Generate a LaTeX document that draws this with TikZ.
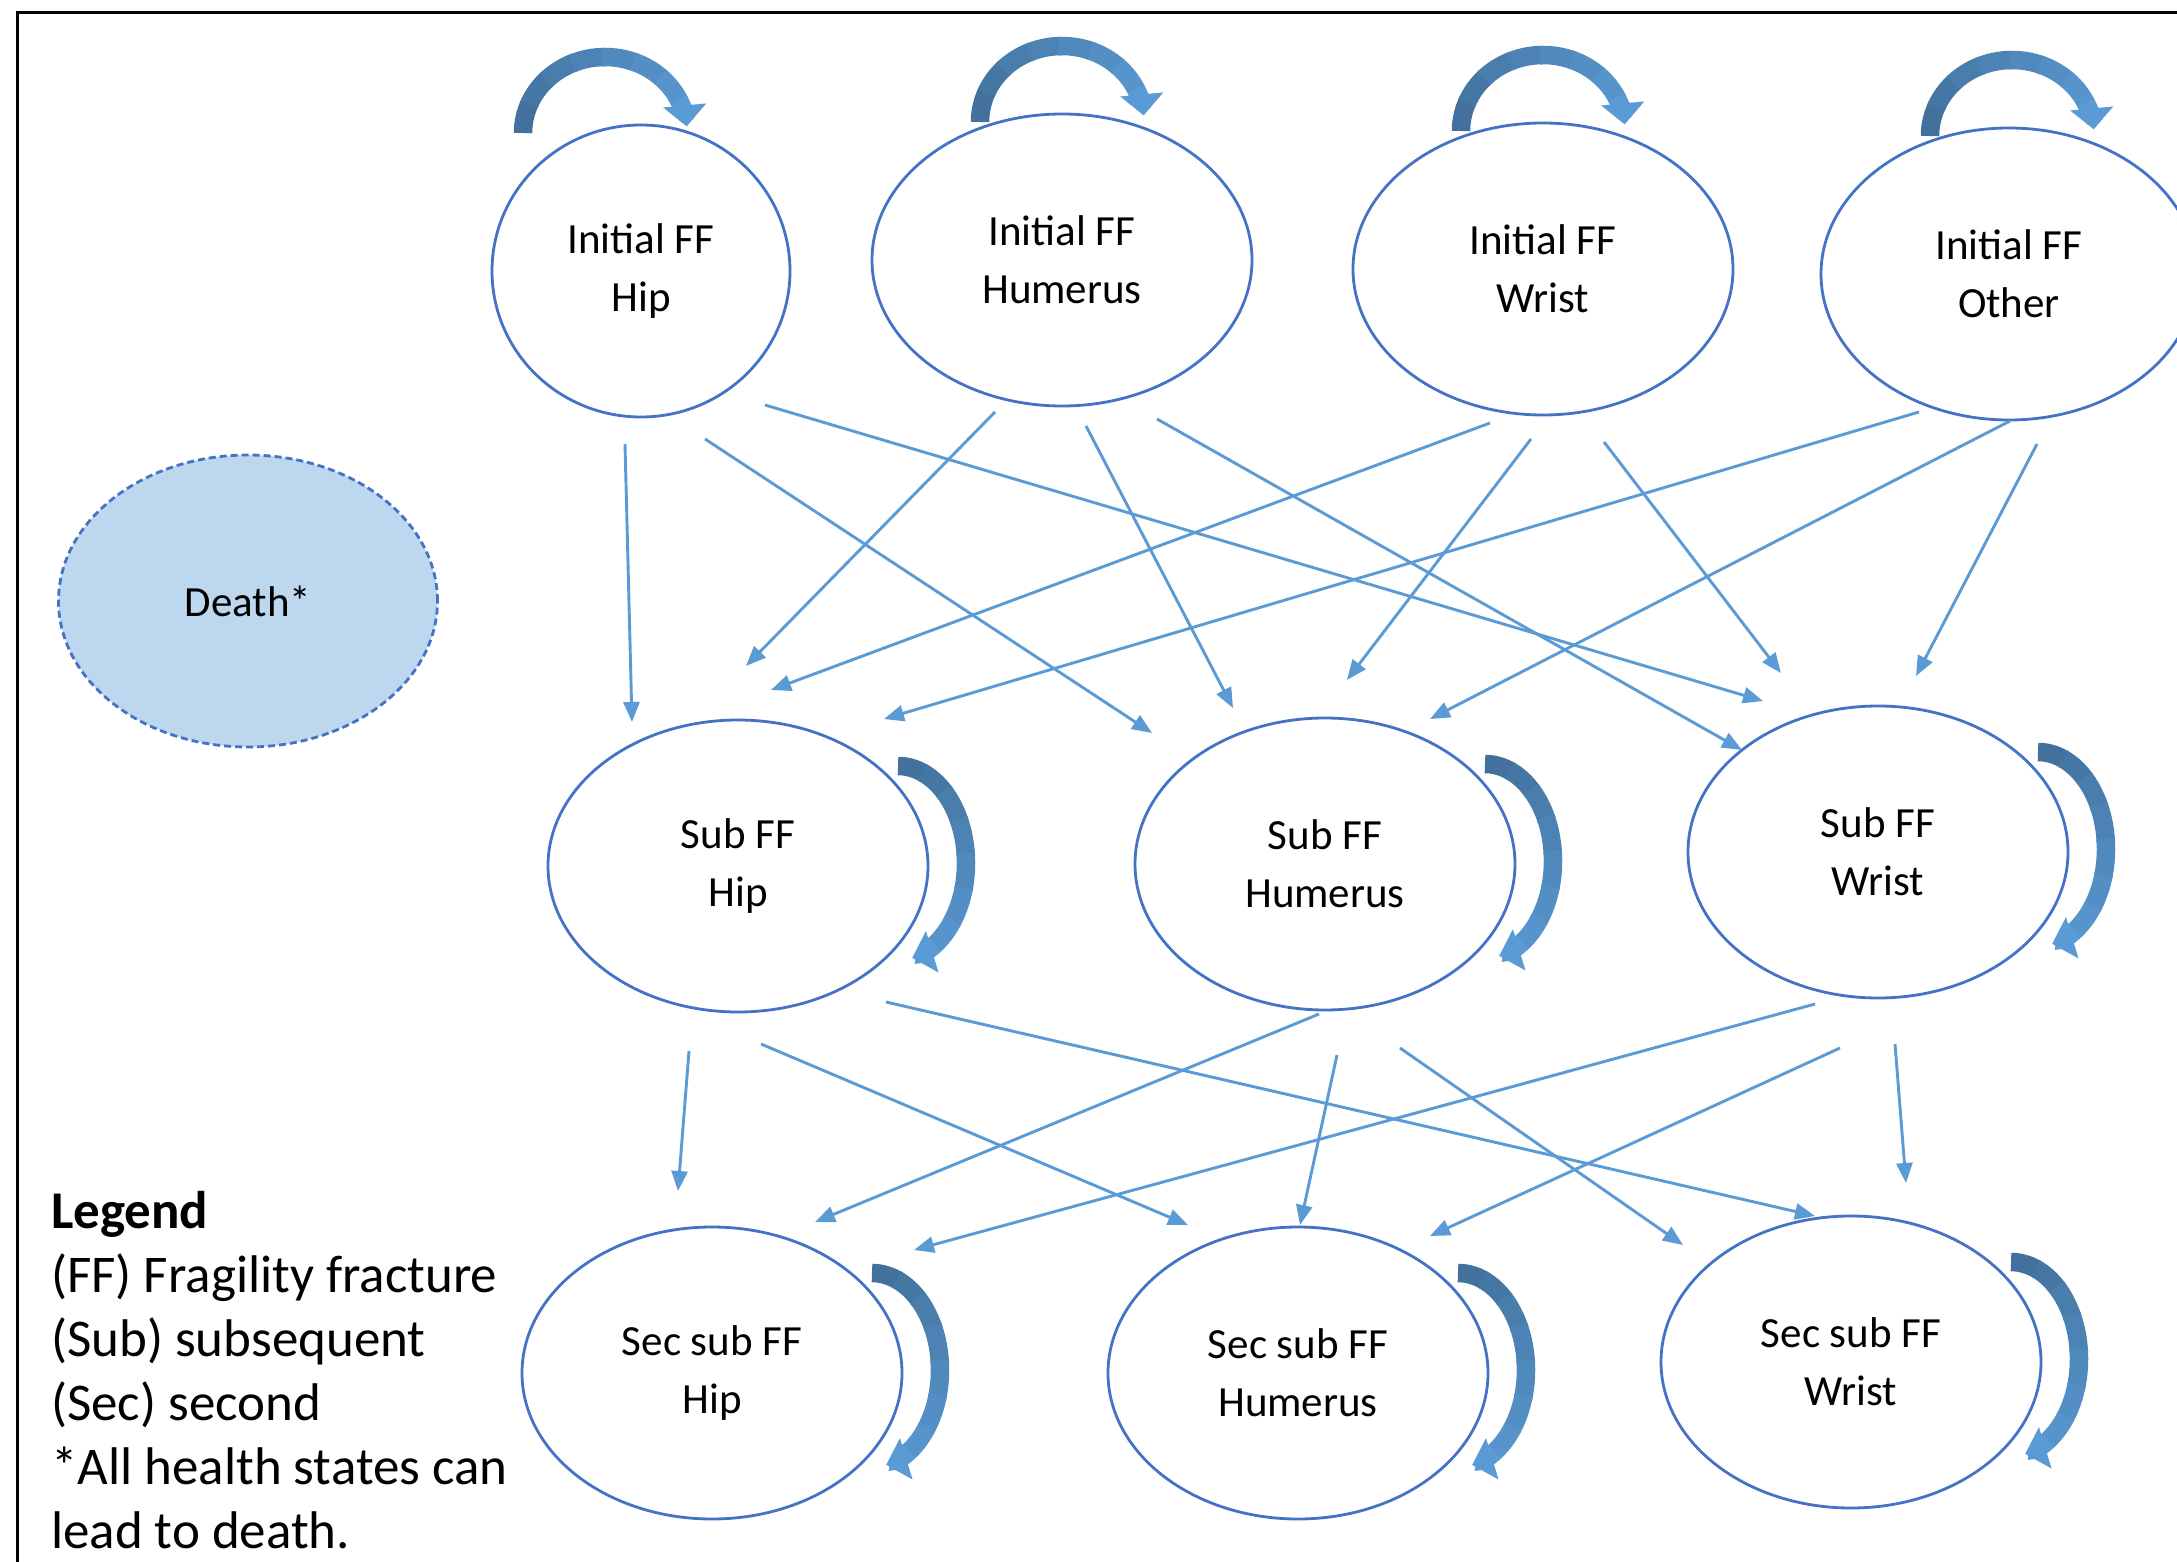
\documentclass[tikz,border=0pt]{standalone}
\usepackage{fontspec}
\setmainfont{Carlito}
\usetikzlibrary{shapes.geometric,arrows.meta,calc}
\definecolor{nodeblue}{HTML}{4472C4}
\definecolor{connblue}{HTML}{5B9BD5}
\definecolor{loopdark}{HTML}{41719C}
\definecolor{looplight}{HTML}{5B9BD5}
\definecolor{deathfill}{HTML}{BDD7EE}
\tikzset{
  state/.style={ellipse, draw=nodeblue, line width=2.8pt, minimum width=380pt,
    minimum height=292pt, inner sep=0pt, align=center,
    font=\fontsize{43}{58}\selectfont},
  conn/.style={draw=connblue, line width=2.9pt, -{Triangle[length=20pt,width=16pt]}},
  loopband/.style={line width=18.5pt},
  looptip/.style={-{Triangle[width=42pt,length=21pt]}},
}
% loop above a node: #1 node, #2 x offset of the arc centre
\newcommand\toploop[2]{%
  \foreach \k in {0,...,6}{%
    \pgfmathsetmacro\sa{180-\k*22}%
    \pgfmathsetmacro\ea{180-(\k+1)*22-2}%
    \pgfmathtruncatemacro\pc{100-\k*14}%
    \draw[loopband,draw=loopdark!\pc!looplight] ($(#1.center)+(#2,138)$) ++(\sa:82pt and 76pt)
      arc[start angle=\sa,end angle=\ea,x radius=82pt,y radius=76pt];
  }%
  \draw[loopband,draw=looplight,looptip] ($(#1.center)+(#2,138)$) ++(26:82pt and 76pt)
    arc[start angle=26,end angle=5,x radius=82pt,y radius=76pt];
}
% loop at the right of a node
\newcommand\sideloop[1]{%
  \foreach \k in {0,...,6}{%
    \pgfmathsetmacro\sa{90-\k*21}%
    \pgfmathsetmacro\ea{90-(\k+1)*21-2}%
    \pgfmathtruncatemacro\pc{100-\k*14}%
    \draw[loopband,draw=loopdark!\pc!looplight] ($(#1.center)+(160,3)$) ++(\sa:68pt and 97pt)
      arc[start angle=\sa,end angle=\ea,x radius=68pt,y radius=97pt];
  }%
  \draw[loopband,draw=looplight,looptip] ($(#1.center)+(160,3)$) ++(-57:68pt and 97pt)
    arc[start angle=-57,end angle=-78,x radius=68pt,y radius=97pt];
}
\begin{document}
\begin{tikzpicture}[x=1pt,y=1pt]
\useasboundingbox (0,0) rectangle (2177,-1562);
\clip (0,0) rectangle (2177,-1562);
\fill[white] (0,0) rectangle (2177,-1562);
\draw[line width=3pt] (17,-1600) -- (17,-12.5) -- (2250,-12.5);

% states
\node[state, minimum width=298pt] (ih) at (641,-271) {Initial FF\\Hip};
\node[state] (ihu) at (1062,-260) {Initial FF\\Humerus};
\node[state] (iw) at (1543,-269) {Initial FF\\Wrist};
\node[state, minimum width=376pt] (io) at (2009,-274) {Initial FF\\Other};

\node[state] (sh) at (738,-866) {Sub FF\\Hip};
\node[state] (shu) at (1325,-864) {Sub FF\\Humerus};
\node[state] (sw) at (1878,-852) {Sub FF\\Wrist};

\node[state] (ch) at (712,-1373) {Sec sub FF\\Hip};
\node[state] (chu) at (1298,-1373) {Sec sub FF\\Humerus};
\node[state] (cw) at (1851,-1362) {Sec sub FF\\Wrist};

\node[ellipse, draw=nodeblue, fill=deathfill, dash pattern=on 7pt off 4pt,
  line width=2.8pt, minimum width=379pt, minimum height=292pt, inner sep=0pt,
  font=\fontsize{43}{58}\selectfont] (death) at (248,-601) {Death*};

% self loops
\toploop{ih}{-36}
\toploop{ihu}{0}
\toploop{iw}{0}
\toploop{io}{3}
\sideloop{sh}
\sideloop{shu}
\sideloop{sw}
\sideloop{ch}
\sideloop{chu}
\sideloop{cw}

% initial -> subsequent
\draw[conn] ($(ih.center)+(-16,-173)$) -- ($(sh.center)+(-106,144)$);
\draw[conn] ($(ih.center)+(64,-168)$) -- ($(shu.center)+(-173,131)$);
\draw[conn] ($(ih.center)+(124,-134)$) -- ($(sw.center)+(-115,151)$);
\draw[conn] ($(ihu.center)+(-67,-152)$) -- ($(sh.center)+(8,200)$);
\draw[conn] ($(ihu.center)+(24,-166)$) -- ($(shu.center)+(-92,156)$);
\draw[conn] ($(ihu.center)+(95,-159)$) -- ($(sw.center)+(-136,102)$);
\draw[conn] ($(iw.center)+(-53,-154)$) -- ($(sh.center)+(33,176)$);
\draw[conn] ($(iw.center)+(-12,-170)$) -- ($(shu.center)+(22,184)$);
\draw[conn] ($(iw.center)+(61,-173)$) -- ($(sw.center)+(-97,179)$);
\draw[conn] ($(io.center)+(-90,-138)$) -- ($(sh.center)+(146,147)$);
\draw[conn] ($(io.center)+(1,-147)$) -- ($(shu.center)+(105,145)$);
\draw[conn] ($(io.center)+(28,-170)$) -- ($(sw.center)+(38,176)$);

% subsequent -> second subsequent
\draw[conn] ($(sh.center)+(-49,-185)$) -- ($(ch.center)+(-34,182)$);
\draw[conn] ($(sh.center)+(23,-178)$) -- ($(chu.center)+(-110,148)$);
\draw[conn] ($(sh.center)+(148,-136)$) -- ($(cw.center)+(-36,146)$);
\draw[conn] ($(shu.center)+(-6,-150)$) -- ($(ch.center)+(103,151)$);
\draw[conn] ($(shu.center)+(12,-191)$) -- ($(chu.center)+(2,148)$);
\draw[conn] ($(shu.center)+(75,-184)$) -- ($(cw.center)+(-168,117)$);
\draw[conn] ($(sw.center)+(-63,-152)$) -- ($(ch.center)+(202,123)$);
\draw[conn] ($(sw.center)+(-38,-196)$) -- ($(chu.center)+(132,137)$);
\draw[conn] ($(sw.center)+(17,-192)$) -- ($(cw.center)+(55,179)$);

% legend
\node[anchor=north west, align=left, inner sep=0pt,
  font=\fontsize{53}{64}\selectfont] (legend) at (51,-1191)
  {\textbf{Legend}\\(FF) Fragility fracture\\(Sub) subsequent\\(Sec) second\\*All health states can\\lead to death.};
\end{tikzpicture}
\end{document}
